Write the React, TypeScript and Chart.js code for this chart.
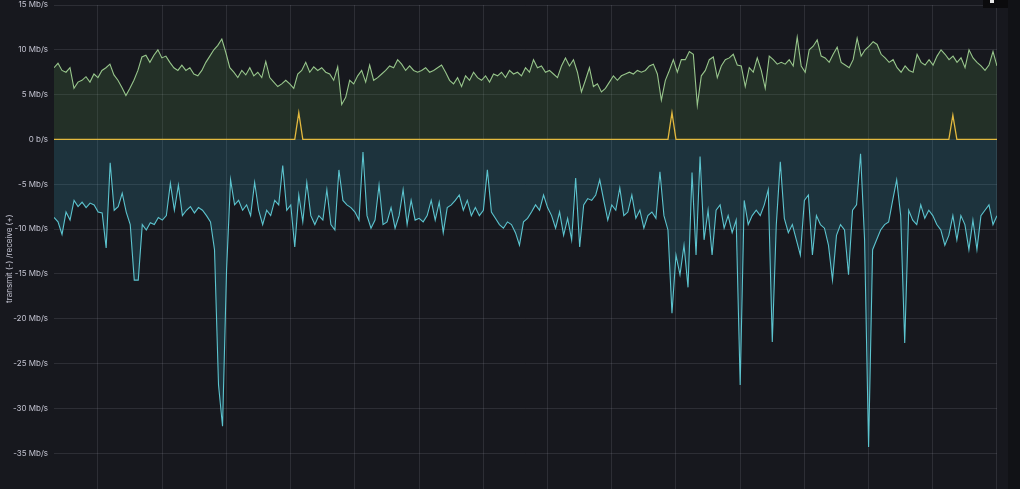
import React, { useEffect, useRef } from 'react';
import { Chart, registerables } from 'chart.js';

Chart.register(...registerables);

// ---- data (Mb/s), sampled every ~37.5 s ----
const SAMPLE_SECONDS = 37.5;
const TOTAL_SECONDS = 235 * SAMPLE_SECONDS;
const GRID_START = 411;
const GRID_STEP = 600;

const Y_MIN = -39;
const Y_MAX = 15;
const Y_TICKS = [15, 10, 5, 0, -5, -10, -15, -20, -25, -30, -35];
const Y_TICK_LABELS = ['15 Mb/s', '10 Mb/s', '5 Mb/s', '0 b/s', '-5 Mb/s', '-10 Mb/s', '-15 Mb/s', '-20 Mb/s', '-25 Mb/s', '-30 Mb/s', '-35 Mb/s'];
const Y_TITLE = 'transmit (-) /receive (+)';

const RECEIVE = [
  8.0, 8.5, 7.7, 7.5, 8.0, 5.7, 6.4, 6.6, 7.0, 6.4, 7.3, 6.9, 7.7, 8.0, 8.4, 7.2, 6.6, 5.8, 4.9, 5.7,
  6.6, 7.7, 9.2, 9.4, 8.6, 9.4, 10.0, 9.1, 9.3, 8.6, 8.0, 7.7, 8.3, 7.7, 8.0, 7.3, 7.1, 7.7, 8.6, 9.3,
  10.0, 10.5, 11.2, 9.7, 8.0, 7.5, 6.9, 7.7, 7.2, 8.0, 7.1, 7.5, 6.9, 8.7, 6.9, 6.4, 5.9, 6.2, 6.6, 6.2,
  5.7, 7.3, 7.7, 8.6, 7.5, 8.1, 7.7, 8.0, 7.5, 7.3, 6.6, 8.1, 3.9,
  4.7, 6.6, 6.2, 7.1, 7.7, 6.4, 8.3, 6.6, 6.9, 7.3, 7.7, 8.2, 8.0, 8.9, 8.4, 7.7, 8.2, 7.7, 7.5, 7.7,
  8.0, 7.5, 7.7, 8.0, 8.3, 7.5, 6.6, 6.2, 6.9, 5.9, 7.1, 6.6, 7.5, 6.9, 6.6, 7.1, 6.4, 7.3, 7.1, 7.5,
  6.9, 7.7, 7.3, 7.5, 7.1, 8.0, 7.5, 8.9, 8.0, 8.2, 7.5, 7.7, 7.3, 6.9, 8.2, 9.1, 8.2, 8.9, 7.5, 5.3,
  6.6, 8.0, 5.9, 6.2, 5.3, 5.7, 6.4, 7.1, 6.6, 7.1, 7.3, 7.5, 7.3, 7.7, 7.5, 7.7, 8.2, 8.4, 7.3, 4.4,
  6.6, 7.7, 8.9, 7.5, 8.9,
  8.9, 9.8, 9.5, 3.8, 7.1, 7.7, 8.9, 9.2, 6.9, 8.2, 8.9, 9.1, 9.5, 8.3, 8.2, 5.9, 8.0, 7.5, 9.1, 7.7,
  5.7, 9.3, 8.9, 8.4, 8.6, 8.4, 8.9, 8.2, 11.4, 8.2, 7.5, 10.0, 10.4, 11.1, 9.3, 9.1, 8.6, 9.5, 10.3, 8.6,
  8.3, 8.0, 8.9, 11.3, 9.3, 10.0, 10.4, 10.9, 10.6, 9.5, 9.1, 8.6, 8.9, 8.0, 7.5, 8.2, 7.7, 7.5, 9.5, 8.6,
  8.3, 8.9, 8.3, 9.3, 10.0, 9.5, 8.9, 9.3, 8.6, 9.1, 8.0, 10.0, 9.1, 8.6, 8.2, 7.7, 8.3, 9.8, 8.2,
];

const TRANSMIT = [
  -8.7, -9.2, -10.6, -8.1, -9.0, -6.8, -7.5, -7.0, -7.6, -7.1, -7.3, -8.1, -8.2, -12.1, -2.6, -7.9, -7.5, -6.0, -8.1, -9.5,
  -15.7, -15.7, -9.5, -10.1, -9.3, -9.5, -8.7, -9.0, -8.5, -4.9, -7.9, -5.1, -8.5, -7.9, -7.5, -8.2, -7.6,
  -7.9, -8.5, -9.2, -12.3, -27.4, -32.0, -14.6, -4.5, -7.3, -6.8, -7.9, -7.3, -8.5, -4.8, -7.9, -9.5, -7.9, -8.5, -6.8, -7.3,
  -2.9, -7.9, -7.3, -12.0, -6.2, -9.2, -4.8, -8.5, -9.5, -8.5, -9.0, -5.6, -9.5, -10.1, -3.4, -6.8, -7.3, -7.6, -8.1, -9.0,
  -1.4, -8.5, -9.9, -9.0, -5.1, -9.5, -9.2, -7.6, -9.9, -8.5, -5.6, -9.5, -6.8, -9.0, -8.8, -9.2, -8.5, -6.8, -9.0, -7.0,
  -10.4, -7.6, -7.3, -6.8, -6.2, -7.9, -6.8, -8.5, -7.6, -8.5, -7.9, -3.4, -8.1, -8.8, -9.5, -9.9, -9.2, -9.5, -10.4, -11.8,
  -9.2, -8.8, -8.1, -7.3, -7.9, -6.2, -7.6, -8.5, -9.9, -8.1, -10.7, -8.8, -11.2, -4.3, -12.0, -7.3, -6.6, -6.8, -6.2, -4.5,
  -6.8, -9.0, -7.3, -7.9, -5.4,
  -8.5, -8.1, -6.2, -8.8, -7.9, -9.9, -8.5, -8.1, -8.8, -3.6, -8.5, -10.1, -19.4, -12.9, -15.1, -11.8, -16.5, -3.7, -12.9, -1.9,
  -11.2, -7.9, -12.9, -7.9, -7.3, -9.9, -8.5, -10.4, -9.0, -27.4, -6.8, -9.5, -8.5, -7.9, -8.5, -7.3, -5.6, -22.6, -9.5, -2.5,
  -8.8, -10.4, -9.5, -11.2, -12.9, -6.8, -6.2, -12.9, -8.5, -9.5, -9.9, -11.8, -15.7, -10.7, -9.5, -10.1, -15.1, -7.9, -7.3, -1.6,
  -11.2, -34.3, -12.3, -11.2, -10.1, -9.5, -9.2, -6.8, -4.5, -8.5, -22.7, -7.9, -9.0, -9.5, -7.3, -8.8, -7.9, -8.5, -9.5, -10.1,
  -11.8, -10.7, -8.5, -11.2, -8.5, -9.5, -12.3, -9.0, -12.3, -8.5, -7.9, -7.3, -9.5, -8.5,
];

const ERRORS = [
  0, 0, 0, 0, 0, 0, 0, 0, 0, 0, 0, 0, 0, 0, 0, 0, 0, 0, 0, 0,
  0, 0, 0, 0, 0, 0, 0, 0, 0, 0, 0, 0, 0, 0, 0, 0, 0, 0, 0, 0,
  0, 0, 0, 0, 0, 0, 0, 0, 0, 0, 0, 0, 0, 0, 0, 0, 0, 0, 0, 0,
  0, 3.0, 0, 0, 0, 0, 0, 0, 0, 0, 0, 0, 0, 0, 0, 0, 0, 0, 0, 0,
  0, 0, 0, 0, 0, 0, 0, 0, 0, 0, 0, 0, 0, 0, 0, 0, 0, 0, 0, 0,
  0, 0, 0, 0, 0, 0, 0, 0, 0, 0, 0, 0, 0, 0, 0, 0, 0, 0, 0, 0,
  0, 0, 0, 0, 0, 0, 0, 0, 0, 0, 0, 0, 0, 0, 0, 0, 0, 0, 0, 0,
  0, 0, 0, 0, 0, 0, 0, 0, 0, 0, 0, 0, 0, 0, 3.0, 0, 0, 0, 0, 0,
  0, 0, 0, 0, 0, 0, 0, 0, 0, 0, 0, 0, 0, 0, 0, 0, 0, 0, 0, 0,
  0, 0, 0, 0, 0, 0, 0, 0, 0, 0, 0, 0, 0, 0, 0, 0, 0, 0, 0, 0,
  0, 0, 0, 0, 0, 0, 0, 0, 0, 0, 0, 0, 0, 0, 0, 0, 0, 0, 0, 0,
  0, 0, 0, 0, 2.7, 0, 0, 0, 0, 0, 0, 0, 0, 0, 0, 0,
];

const toPoints = (arr: number[]) =>
  arr.map((v, i) => ({ x: (i * TOTAL_SECONDS) / (arr.length - 1), y: v }));

const GRID_COLOR = 'rgba(204,204,220,0.12)';
const TEXT_COLOR = 'rgba(214,214,228,0.9)';
const FONT = 'Inter, Roboto, "DejaVu Sans", sans-serif';

const yTitlePlugin = {
  id: 'yTitle',
  afterDraw(chart: any) {
    const { ctx, chartArea } = chart;
    ctx.save();
    ctx.translate(10, chartArea.top + (chartArea.bottom - chartArea.top) * 0.524);
    ctx.rotate(-Math.PI / 2);
    ctx.fillStyle = TEXT_COLOR;
    ctx.font = `8px ${FONT}`;
    ctx.textAlign = 'center';
    ctx.textBaseline = 'middle';
    ctx.fillText(Y_TITLE, 0, 0);
    ctx.restore();
  },
};

export default function App() {
  const ref = useRef<HTMLCanvasElement | null>(null);

  useEffect(() => {
    document.body.style.margin = '0';
    document.body.style.background = '#111216';
    if (!ref.current) return;
    const chart = new Chart(ref.current, {
      type: 'line',
      data: {
        datasets: [
          {
            label: 'errors',
            data: toPoints(ERRORS),
            borderColor: '#e3b93f',
            borderWidth: 1.3,
            pointRadius: 0,
            fill: false,
          },
          {
            label: 'receive',
            data: toPoints(RECEIVE),
            borderColor: '#98c68c',
            borderWidth: 1.1,
            pointRadius: 0,
            fill: 'origin',
            backgroundColor: 'rgba(100,175,90,0.16)',
          },
          {
            label: 'transmit',
            data: toPoints(TRANSMIT),
            borderColor: '#5cc4cf',
            borderWidth: 1.1,
            pointRadius: 0,
            fill: 'origin',
            backgroundColor: 'rgba(60,175,205,0.18)',
          },
        ],
      },
      options: {
        animation: false,
        responsive: false,
        maintainAspectRatio: false,
        layout: { padding: { top: 5, right: 11, bottom: 0, left: 0 } },
        plugins: { legend: { display: false }, tooltip: { enabled: false } },
        scales: {
          x: {
            type: 'linear',
            min: 0,
            max: TOTAL_SECONDS,
            border: { display: false },
            ticks: { display: false },
            grid: { color: GRID_COLOR, drawTicks: false },
            afterBuildTicks: (scale: any) => {
              const t = [];
              for (let v = GRID_START; v <= TOTAL_SECONDS + 1; v += GRID_STEP) t.push({ value: v });
              scale.ticks = t;
            },
            afterFit: (scale: any) => {
              scale.height = 0;
              scale.paddingLeft = 0;
              scale.paddingRight = 0;
            },
          },
          y: {
            min: Y_MIN,
            max: Y_MAX,
            border: { display: false },
            grid: { color: GRID_COLOR, drawTicks: false },
            afterBuildTicks: (scale: any) => {
              scale.ticks = Y_TICKS.map((v) => ({ value: v }));
            },
            afterFit: (scale: any) => {
              scale.width = 54;
              scale.paddingTop = 0;
              scale.paddingBottom = 0;
            },
            ticks: {
              color: TEXT_COLOR,
              font: { family: FONT, size: 8 },
              padding: 6,
              callback: (v: any) => {
                const i = Y_TICKS.indexOf(Number(v));
                return i >= 0 ? Y_TICK_LABELS[i] : '';
              },
            },
          },
        },
      },
      plugins: [yTitlePlugin],
    });
    return () => chart.destroy();
  }, []);

  return (
    <div style={{ width: 1020, height: 489, background: '#111216', position: 'relative', overflow: 'hidden' }}>
      <div style={{ width: 1008, height: 489, background: '#17181e', position: 'absolute', left: 0, top: 0 }}>
        <canvas ref={ref} width={1008} height={489} style={{ display: 'block' }} />
      </div>
      <div style={{ position: 'absolute', left: 983, top: 0, width: 25, height: 8, background: '#0b0b0d' }}>
        <div style={{ position: 'absolute', left: 7, top: 0, width: 4, height: 3, background: '#e8e8e8' }} />
      </div>
    </div>
  );
}
